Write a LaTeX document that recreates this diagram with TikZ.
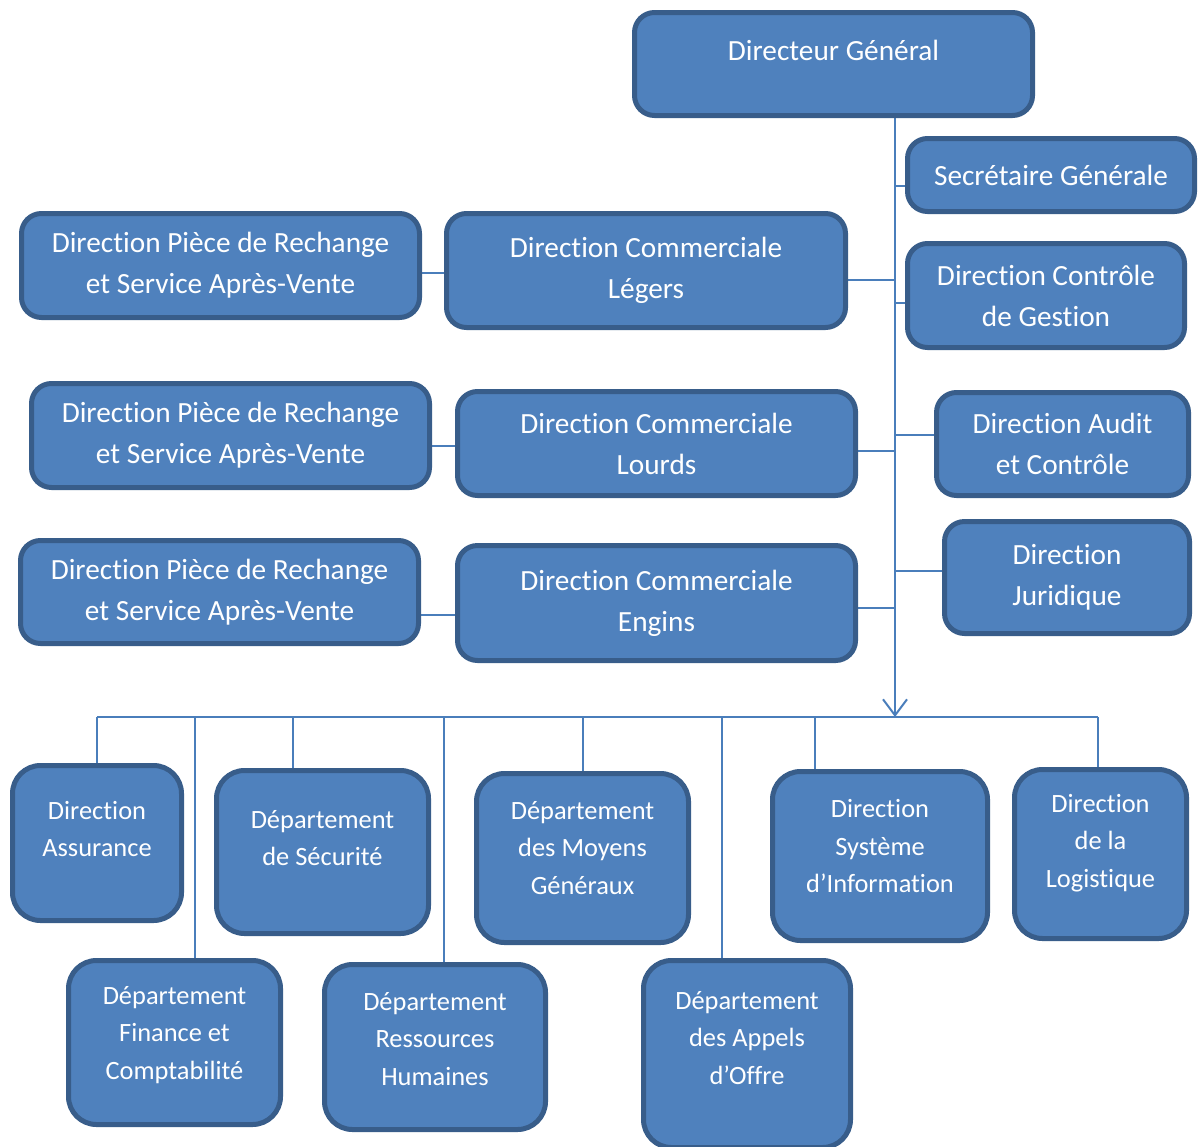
\documentclass[tikz,border=0pt]{standalone}
\usepackage{fontspec}
\setmainfont{Carlito}[Ligatures=NoCommon]
\usetikzlibrary{arrows.meta,backgrounds}
\definecolor{boxfill}{HTML}{4F81BD}
\definecolor{boxedge}{HTML}{385D8A}
\definecolor{linkblue}{HTML}{4A7EBB}
\newcommand\toptext{\fontsize{29.3}{41}\selectfont}
\newcommand\unittext{\fontsize{26.4}{37.5}\selectfont}
\begin{document}
\begin{tikzpicture}[
	x=1pt, y=-1pt,
	box/.style={
		draw=boxedge, fill=boxfill, line width=5pt, rounded corners=20pt,
		text=white, align=center, font=\toptext, inner sep=0pt
	},
	unit/.style={box, rounded corners=28pt},
	toplbl/.style={text=white, align=center, font=\toptext, yshift=#1},
	unitlbl/.style={text=white, align=center, font=\unittext, yshift=#1},
	lnk/.style={draw=linkblue, line width=2pt},
	arr/.style={lnk, -{Straight Barb[length=16pt, width=24pt, line width=2pt]}}
]
\useasboundingbox (0,0) rectangle (1198,1146);

% Nodes -- top of the chart
\node[box, minimum width=398pt, minimum height=103pt,
	label={[toplbl=14pt]center:Directeur Général}] (dg) at (833.5, 64) {};
\node[box, minimum width=287pt, minimum height=73pt]  (sg)  at (1051, 175)   {Secrétaire Générale};
\node[box, minimum width=277pt, minimum height=104pt] (dcg) at (1046, 295.5) {Direction Contrôle\\de Gestion};
\node[box, minimum width=252pt, minimum height=103pt] (aud) at (1062.5, 444) {Direction Audit\\et Contrôle};
\node[box, minimum width=245pt, minimum height=112pt] (jur) at (1067, 577.5) {Direction\\Juridique};

% Commercial directions and their after-sales directions
\node[box, minimum width=399pt, minimum height=114pt] (leg) at (646, 270.5)   {Direction Commerciale\\Légers};
\node[box, minimum width=398pt, minimum height=104pt] (lrd) at (656.5, 443.5) {Direction Commerciale\\Lourds};
\node[box, minimum width=398pt, minimum height=115pt] (eng) at (656.5, 603)   {Direction Commerciale\\Engins};
\node[box, minimum width=398pt, minimum height=104pt] (pr1) at (220.5, 265.5) {Direction Pièce de Rechange\\et Service Après-Vente};
\node[box, minimum width=398pt, minimum height=104pt] (pr2) at (230.5, 435.5) {Direction Pièce de Rechange\\et Service Après-Vente};
\node[box, minimum width=398pt, minimum height=103pt] (pr3) at (219.5, 592)   {Direction Pièce de Rechange\\et Service Après-Vente};

% Bottom row units
\node[unit, minimum width=169pt, minimum height=155pt,
	label={[unitlbl=14pt]center:Direction\\Assurance}] (asr) at (97, 843) {};
\node[unit, minimum width=212pt, minimum height=163pt,
	label={[unitlbl=14pt]center:Département\\de Sécurité}] (sec) at (322.5, 852) {};
\node[unit, minimum width=212pt, minimum height=169pt,
	label={[unitlbl=10pt]center:Département\\des Moyens\\Généraux}] (moy) at (582.5, 858) {};
\node[unit, minimum width=215pt, minimum height=169pt,
	label={[unitlbl=10pt]center:Direction\\Système\\d’Information}] (si) at (880, 856) {};
\node[unit, minimum width=172pt, minimum height=169pt,
	label={[unitlbl=11pt]center:Direction\\de la\\Logistique}] (log) at (1100.5, 854) {};
\node[unit, minimum width=212pt, minimum height=164pt,
	label={[unitlbl=7.5pt]center:Département\\Finance et\\Comptabilité}] (fin) at (174.5, 1042.5) {};
\node[unit, minimum width=221pt, minimum height=165pt,
	label={[unitlbl=8pt]center:Département\\Ressources\\Humaines}] (rh) at (435, 1047) {};
\node[unit, minimum width=207pt, minimum height=187pt,
	label={[unitlbl=16pt]center:Département\\des Appels\\d’Offre}] (apo) at (747, 1054) {};

% Connectors, behind the boxes
\coordinate (tip) at (895, 717);
\begin{scope}[on background layer]
	% main spine from the DG down to the bus
	\draw[arr] (dg.south -| tip) -- (tip);

	% right-hand staff directions
	\draw[lnk] ([yshift=-11pt]sg.west)  -- ([yshift=-11pt]sg.west -| tip);
	\draw[lnk] ([yshift=-7.5pt]dcg.west) -- ([yshift=-7.5pt]dcg.west -| tip);
	\draw[lnk] ([yshift=9pt]aud.west)   -- ([yshift=9pt]aud.west -| tip);
	\draw[lnk] ([yshift=6.5pt]jur.west) -- ([yshift=6.5pt]jur.west -| tip);

	% commercial directions
	\draw[lnk] ([yshift=-9.5pt]leg.east) -- ([yshift=-9.5pt]leg.east -| tip);
	\draw[lnk] ([yshift=-7.5pt]lrd.east) -- ([yshift=-7.5pt]lrd.east -| tip);
	\draw[lnk] ([yshift=-5pt]eng.east)   -- ([yshift=-5pt]eng.east -| tip);

	% after-sales to commercial
	\draw[lnk] ([yshift=-7.5pt]pr1.east) -- ([yshift=-7.5pt]pr1.east -| leg.west);
	\draw[lnk] ([yshift=-10pt]pr2.east)  -- ([yshift=-10pt]pr2.east -| lrd.west);
	\draw[lnk] ([yshift=-23pt]pr3.east)  -- ([yshift=-23pt]pr3.east -| eng.west);

	% bus and drops
	\draw[lnk] (asr.north |- tip) -- ([xshift=-3pt]log.north |- tip);
	\foreach \n/\dx in {asr/0, fin/20, sec/-30, rh/9, moy/0, apo/-25, si/-65, log/-3}
		\draw[lnk] ([xshift=\dx pt]\n.north |- tip) -- ([xshift=\dx pt]\n.north);
\end{scope}
\end{tikzpicture}
\end{document}
